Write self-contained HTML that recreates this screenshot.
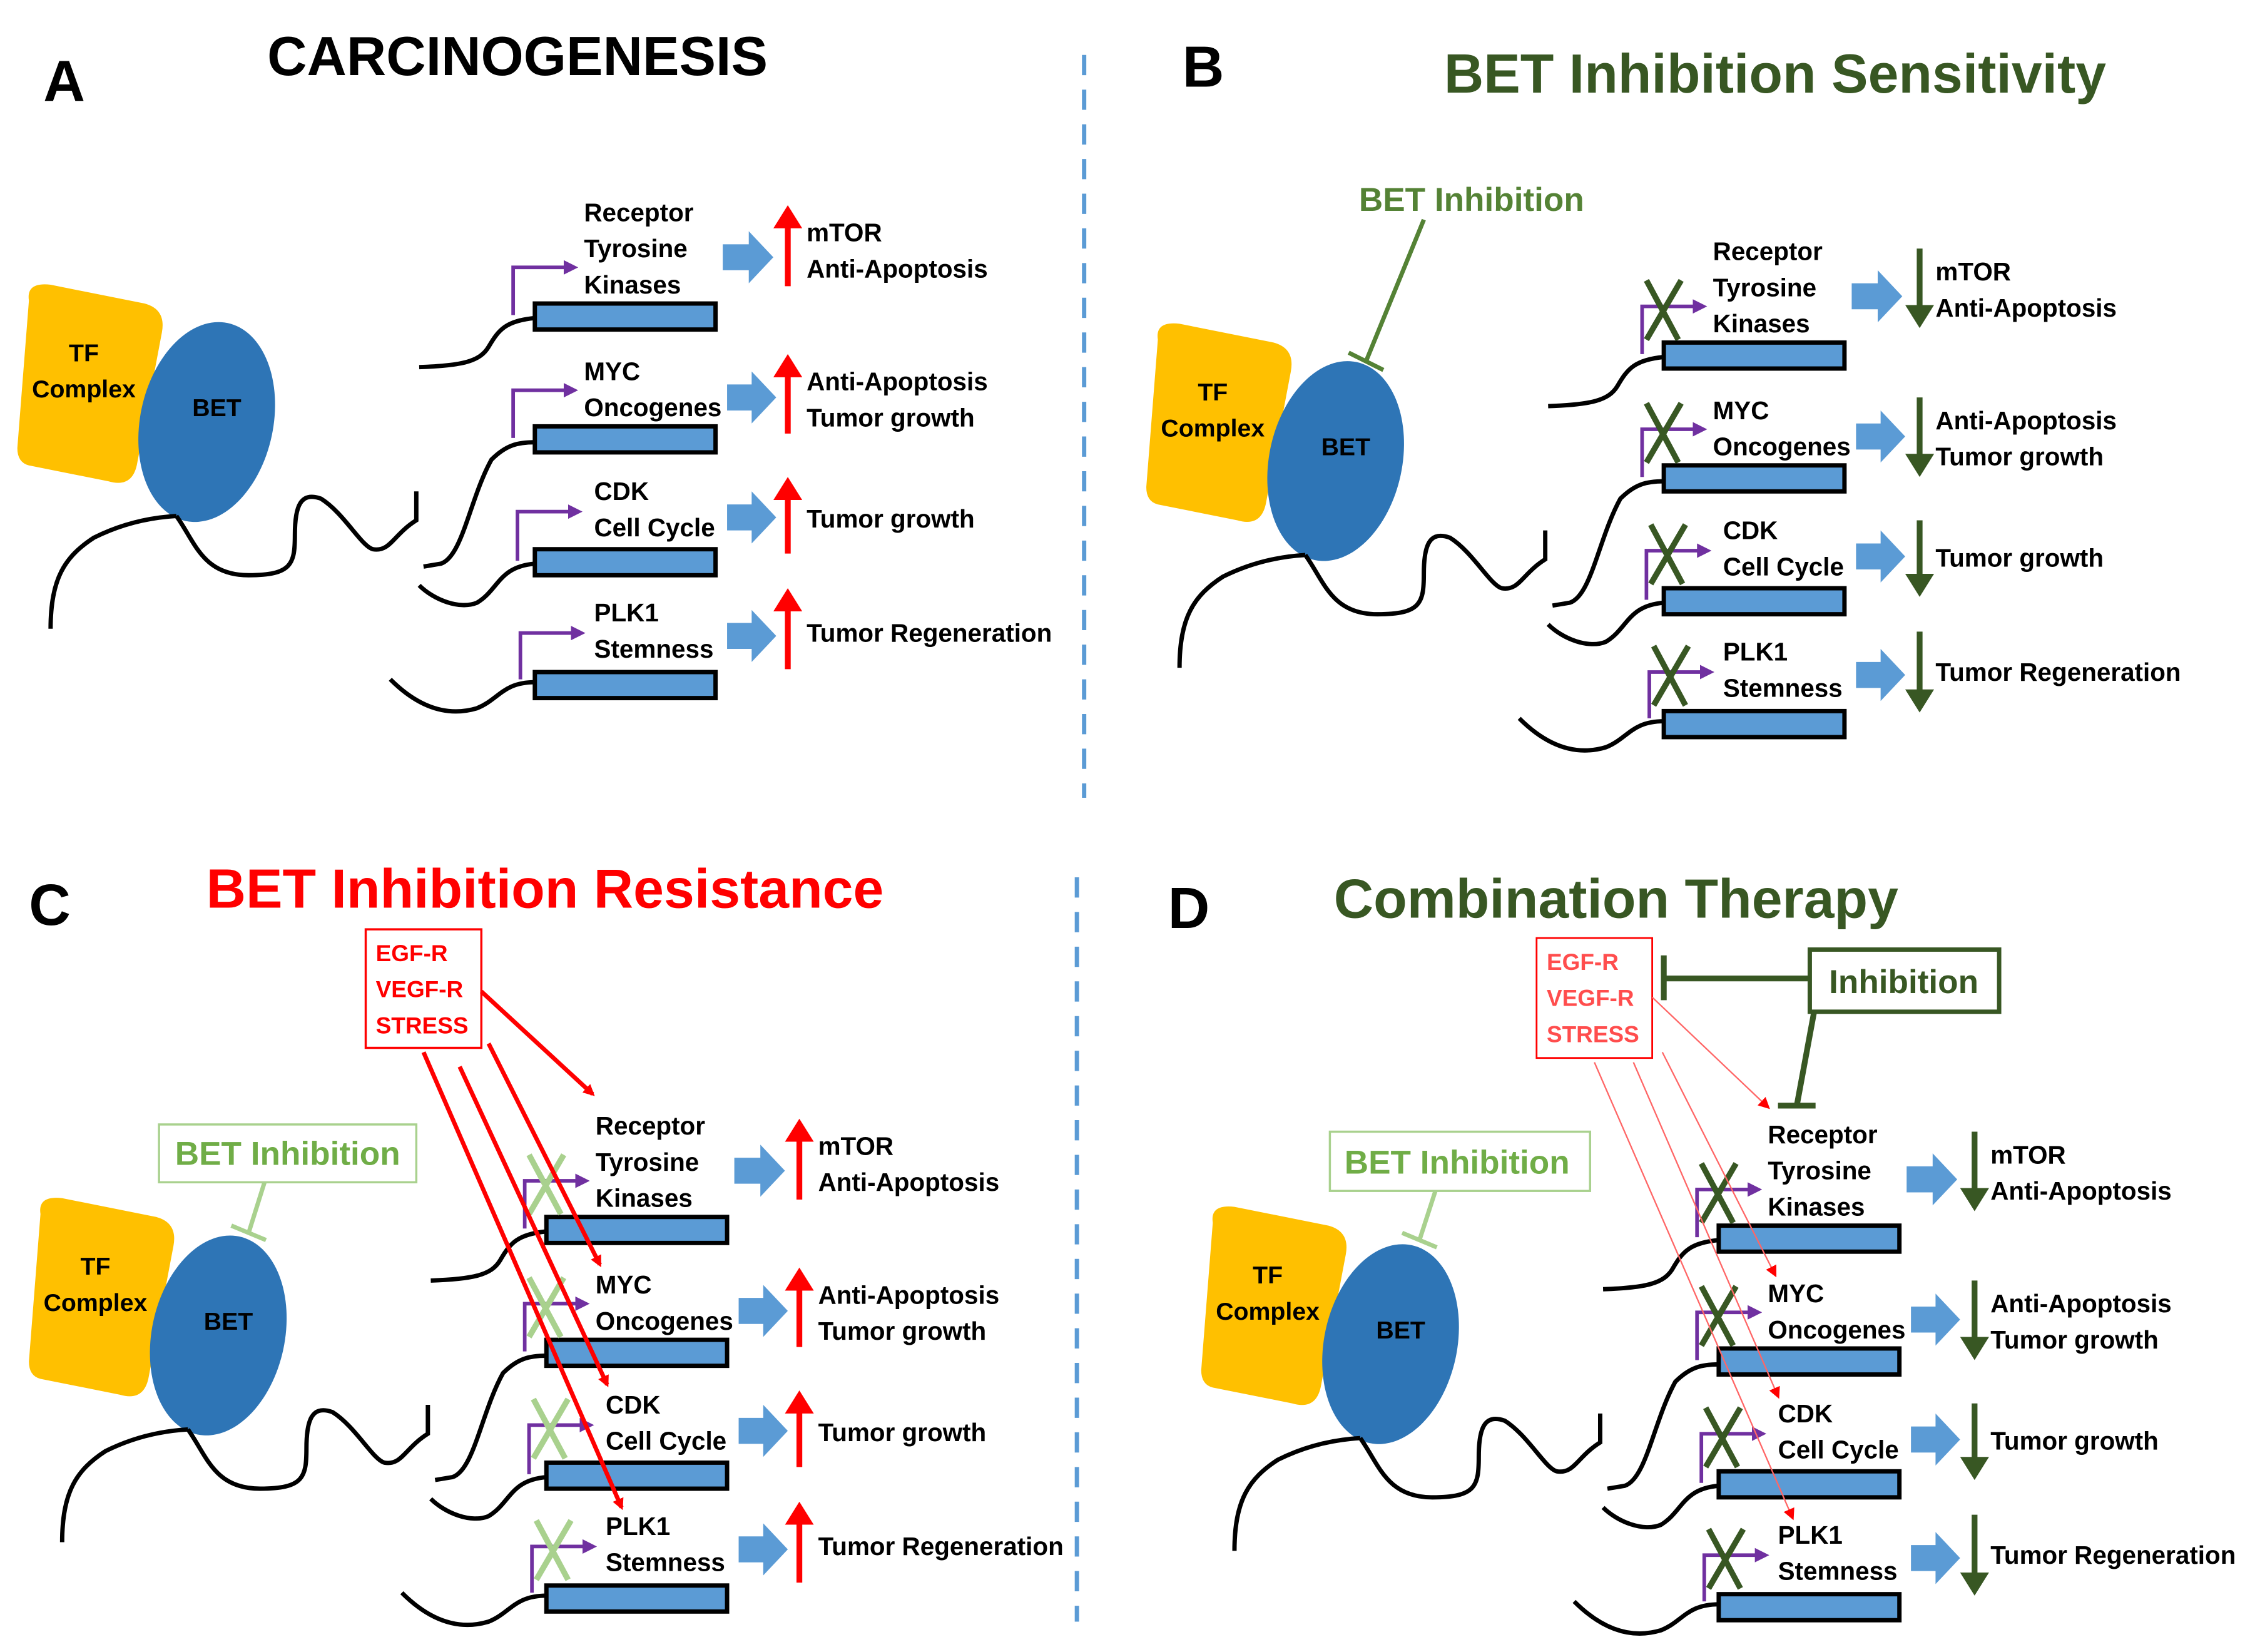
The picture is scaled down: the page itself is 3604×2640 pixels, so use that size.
<!DOCTYPE html>
<html><head><meta charset="utf-8"><style>
html,body{margin:0;padding:0;background:#fff;}
svg{display:block;}
text{font-family:"Liberation Sans",sans-serif;font-weight:bold;}
</style></head><body>
<svg width="3604" height="2640" viewBox="0 0 1560 1143" preserveAspectRatio="none" xmlns="http://www.w3.org/2000/svg">
<defs>
<marker id="pa" markerWidth="4" markerHeight="4" refX="2" refY="2" orient="auto" markerUnits="strokeWidth"><path d="M0,0 L4,2 L0,4 Z" fill="#7030a0"/></marker>
<marker id="ra" markerWidth="4" markerHeight="5" refX="2" refY="2.5" orient="auto" markerUnits="strokeWidth"><path d="M0,0 L4,2.5 L0,5 Z" fill="#ff0000"/></marker>
<marker id="ga" markerWidth="4" markerHeight="5" refX="2" refY="2.5" orient="auto" markerUnits="strokeWidth"><path d="M0,0 L4,2.5 L0,5 Z" fill="#385723"/></marker>
<marker id="rt" markerWidth="8" markerHeight="8" refX="6" refY="4" orient="auto" markerUnits="userSpaceOnUse"><path d="M0,0 L8,4 L0,8 Z" fill="#ff0000"/></marker>

<g id="cell">
<path d="M20,208 Q18,195 35,197 L100,210 Q115,214 112,230 L95,320 Q92,338 75,333 L20,322 Q12,320 12,310 Z" fill="#ffc000"/>
<ellipse cx="143" cy="292" rx="46" ry="70" transform="rotate(12 143 292)" fill="#2e75b6"/>
<text x="58" y="250" font-size="17" text-anchor="middle">TF</text>
<text x="58" y="275" font-size="17" text-anchor="middle">Complex</text>
<text x="150" y="288" font-size="17" text-anchor="middle">BET</text>
<path d="M35,435 C35,400 45,385 65,372 C85,362 105,358 122,357" fill="none" stroke="#000" stroke-width="3"/>
<path d="M122,357 C135,375 140,398 172,398 C202,398 204,390 204,370 C204,350 208,340 222,345 C238,355 250,378 258,380 C270,382 272,370 288,360 L288,340" fill="none" stroke="#000" stroke-width="3"/>
</g>

<g id="genes">
<g fill="none" stroke="#000" stroke-width="3">
<path d="M290,254 C320,253 332,250 338,240 C345,228 350,222 370,220"/>
<path d="M293,392 L305,390 C320,385 325,345 340,318 C350,308 358,306 370,306"/>
<path d="M290,405 C300,415 318,422 330,417 C345,408 345,392 370,390"/>
<path d="M270,470 C290,490 310,496 330,490 C345,484 348,472 370,472"/>
</g>
<g fill="none" stroke="#7030a0" stroke-width="2.5">
<path d="M355,218 L355,185 L395,185" marker-end="url(#pa)"/>
<path d="M355,303 L355,270 L395,270" marker-end="url(#pa)"/>
<path d="M358,388 L358,354 L398,354" marker-end="url(#pa)"/>
<path d="M360,470 L360,438 L400,438" marker-end="url(#pa)"/>
</g>
<g fill="#5b9bd5" stroke="#000" stroke-width="3">
<rect x="370" y="210" width="125" height="18"/>
<rect x="370" y="295" width="125" height="18"/>
<rect x="370" y="380" width="125" height="18"/>
<rect x="370" y="465" width="125" height="18"/>
</g>
<g font-size="17.5">
<text x="404" y="153">Receptor</text><text x="404" y="178">Tyrosine</text><text x="404" y="203">Kinases</text>
<text x="404" y="263">MYC</text><text x="404" y="288">Oncogenes</text>
<text x="411" y="346">CDK</text><text x="411" y="371">Cell Cycle</text>
<text x="411" y="430">PLK1</text><text x="411" y="455">Stemness</text>
<text x="558" y="167">mTOR</text><text x="558" y="192">Anti-Apoptosis</text>
<text x="558" y="270">Anti-Apoptosis</text><text x="558" y="295">Tumor growth</text>
<text x="558" y="365">Tumor growth</text>
<text x="558" y="444">Tumor Regeneration</text>
</g>
<g fill="#5b9bd5">
<path d="M500,169 L518,169 L518,160 L535,178 L518,196 L518,187 L500,187 Z"/>
<path d="M503,266 L520,266 L520,257 L537,275 L520,293 L520,284 L503,284 Z"/>
<path d="M503,349 L520,349 L520,340 L537,358 L520,376 L520,367 L503,367 Z"/>
<path d="M503,431 L520,431 L520,422 L537,440 L520,458 L520,449 L503,449 Z"/>
</g>
</g>

<g id="upArrows" fill="none" stroke="#ff0000" stroke-width="4">
<path d="M545,198 L545,150" marker-end="url(#ra)"/>
<path d="M545,300 L545,253" marker-end="url(#ra)"/>
<path d="M545,383 L545,338" marker-end="url(#ra)"/>
<path d="M545,463 L545,415" marker-end="url(#ra)"/>
</g>
<g id="downArrows" fill="none" stroke="#385723" stroke-width="4">
<path d="M547,145 L547,192" marker-end="url(#ga)"/>
<path d="M547,248 L547,295" marker-end="url(#ga)"/>
<path d="M547,333 L547,378" marker-end="url(#ga)"/>
<path d="M547,410 L547,458" marker-end="url(#ga)"/>
</g>
<g id="xs" fill="none" stroke-width="4">
<path d="M358,167 L380,208 M382,167 L358,208"/>
<path d="M358,252 L380,293 M382,252 L358,293"/>
<path d="M361,336 L383,377 M385,336 L361,377"/>
<path d="M363,420 L385,461 M387,420 L363,461"/>
</g>
</defs>

<!-- Panel A -->
<text x="30" y="70" font-size="40">A</text>
<text x="358" y="52" font-size="38" text-anchor="middle">CARCINOGENESIS</text>
<line x1="750" y1="38" x2="750" y2="552" stroke="#5b9bd5" stroke-width="3" stroke-dasharray="14,10"/>
<use href="#cell"/>
<use href="#genes"/>
<use href="#upArrows"/>

<!-- Panel B -->
<text x="818" y="60" font-size="40">B</text>
<text x="1228" y="64" font-size="38" text-anchor="middle" fill="#385723">BET Inhibition Sensitivity</text>
<text x="1018" y="146" font-size="23" text-anchor="middle" fill="#548235">BET Inhibition</text>
<path d="M985,152 L945,250 M933,244 L957,256" stroke="#548235" stroke-width="3" fill="none"/>
<g transform="translate(781,27)">
<use href="#cell"/>
<use href="#genes"/>
<use href="#downArrows"/>
<use href="#xs" stroke="#385723"/>
</g>

<!-- Panel C -->
<text x="20" y="640" font-size="40">C</text>
<text x="377" y="628" font-size="38" text-anchor="middle" fill="#ff0000">BET Inhibition Resistance</text>
<line x1="745" y1="607" x2="745" y2="1122" stroke="#5b9bd5" stroke-width="3" stroke-dasharray="14,10"/>
<g transform="translate(8,632)">
<use href="#cell"/>
<use href="#genes"/>
<use href="#upArrows"/>
<use href="#xs" stroke="#a9d18e"/>
</g>
<rect x="110" y="778" width="178" height="40" fill="#fff" stroke="#a9d18e" stroke-width="1.5"/>
<text x="199" y="806" font-size="23" text-anchor="middle" fill="#70ad47">BET Inhibition</text>
<path d="M183,818 L172,853 M160,848 L184,858" stroke="#a9d18e" stroke-width="3" fill="none"/>
<rect x="253" y="643" width="80" height="82" fill="#fff" stroke="#ff0000" stroke-width="1.5"/>
<g font-size="16" fill="#ff0000"><text x="260" y="665">EGF-R</text><text x="260" y="690">VEGF-R</text><text x="260" y="715">STRESS</text></g>
<g stroke="#ff0000" stroke-width="3" fill="none">
<path d="M333,686 L410,757" marker-end="url(#rt)"/>
<path d="M338,722 L415,875" marker-end="url(#rt)"/>
<path d="M318,738 L420,958" marker-end="url(#rt)"/>
<path d="M293,728 L430,1043" marker-end="url(#rt)"/>
</g>

<!-- Panel D -->
<text x="808" y="642" font-size="40">D</text>
<text x="1118" y="635" font-size="38" text-anchor="middle" fill="#385723">Combination Therapy</text>
<g transform="translate(819,638)">
<use href="#cell"/>
<use href="#genes"/>
<use href="#downArrows"/>
<use href="#xs" stroke="#385723"/>
</g>
<rect x="920" y="783" width="180" height="41" fill="#fff" stroke="#a9d18e" stroke-width="1.5"/>
<text x="1008" y="812" font-size="23" text-anchor="middle" fill="#70ad47">BET Inhibition</text>
<path d="M993,824 L982,858 M970,853 L994,863" stroke="#a9d18e" stroke-width="3" fill="none"/>
<rect x="1252" y="657" width="131" height="43" fill="#fff" stroke="#385723" stroke-width="3"/>
<text x="1317" y="687" font-size="23" text-anchor="middle" fill="#385723">Inhibition</text>
<path d="M1252,677 L1151,677 M1151,661 L1151,692 M1255,700 L1243,765 M1230,765 L1256,765" stroke="#385723" stroke-width="4" fill="none"/>
<rect x="1063" y="649" width="80" height="83" fill="#fff" stroke="#ff0000" stroke-width="1.2"/>
<g font-size="16" fill="#ff4d4d"><text x="1070" y="671">EGF-R</text><text x="1070" y="696">VEGF-R</text><text x="1070" y="721">STRESS</text></g>
<g stroke="#ff6666" stroke-width="1" fill="none">
<path d="M1143,690 L1223,766" marker-end="url(#rt)"/>
<path d="M1150,728 L1228,882" marker-end="url(#rt)"/>
<path d="M1130,735 L1230,966" marker-end="url(#rt)"/>
<path d="M1103,735 L1240,1050" marker-end="url(#rt)"/>
</g>
</svg>
</body></html>
